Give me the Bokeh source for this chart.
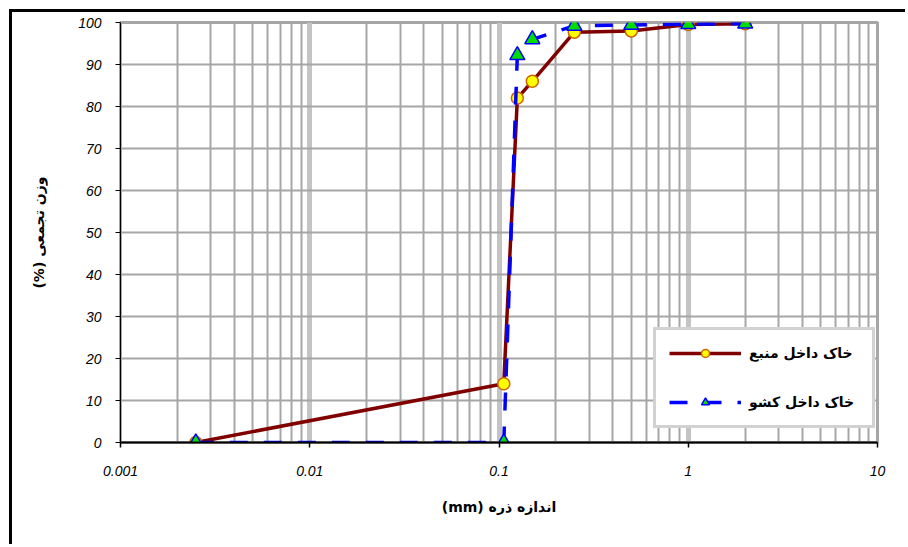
from bokeh.plotting import figure
from bokeh.models import (Range1d, FixedTicker, Legend, LegendItem)
from bokeh.embed import file_html
from bokeh.resources import INLINE

# ---- data ----
size_source = [0.0025, 0.106, 0.125, 0.15, 0.25, 0.5, 1.0, 2.0]
pass_source = [0.0, 14.0, 82.0, 86.0, 97.7, 98.0, 99.5, 99.7]

size_drawer = [0.0025, 0.106, 0.125, 0.15, 0.25, 0.5, 1.0, 2.0]
pass_drawer = [0.0, 0.0, 92.2, 96.0, 99.2, 99.4, 99.6, 99.7]

name_source = "خاک داخل منبع"
name_drawer = "خاک داخل کشو"
x_title = "اندازه ذره (mm)"
y_title = "وزن تجمعی (%)"

x_ticks = [0.001, 0.01, 0.1, 1, 10]
x_tick_labels = ["0.001", "0.01", "0.1", "1", "10"]
y_ticks = [0, 10, 20, 30, 40, 50, 60, 70, 80, 90, 100]

RLE, PDF = "\u202B", "\u202C"

OFF = 12
p = figure(width=908 - OFF, height=547 - OFF, x_axis_type="log",
           x_range=Range1d(0.001, 10), y_range=Range1d(0, 100),
           output_backend="svg", toolbar_location=None,
           min_border_left=120 - OFF, min_border_right=31,
           min_border_top=22 - OFF, min_border_bottom=105)
p.margin = (9, 0, 0, 9)
p.styles = {"border-left": "3px solid black", "border-top": "3px solid black"}
p.background_fill_color = "white"
p.border_fill_color = "white"
p.outline_line_color = "#a6a6a6"
p.outline_line_width = 3

minor = [d * m for d in x_ticks[:-1] for m in range(2, 10)]
xt = FixedTicker(ticks=x_ticks, minor_ticks=minor)
p.xaxis.ticker = xt
p.xaxis.major_label_overrides = {t: l for t, l in zip(x_ticks, x_tick_labels)}
p.yaxis.ticker = FixedTicker(ticks=y_ticks)

p.xgrid.grid_line_color = "#c4c4c4"
p.xgrid.grid_line_width = 5
p.xgrid.minor_grid_line_color = "#a6a6a6"
p.xgrid.minor_grid_line_width = 2
p.ygrid.grid_line_color = "#a6a6a6"
p.ygrid.grid_line_width = 2

for ax in (p.xaxis, p.yaxis):
    ax.major_label_text_font = "Liberation Sans"
    ax.major_label_text_font_style = "italic"
    ax.major_label_text_font_size = "14px"
    ax.major_label_text_color = "black"
    ax.major_tick_line_color = "black"
    ax.major_tick_in = 0
    ax.major_tick_out = 5
    ax.minor_tick_line_color = None
    ax.axis_label_text_font = "DejaVu Sans"
    ax.axis_label_text_font_style = "bold"
    ax.axis_label_text_font_size = "14px"
    ax.axis_label_text_color = "black"

p.xaxis.axis_line_color = "black"
p.xaxis.axis_line_width = 2
p.xaxis.major_tick_line_width = 1.5
p.xaxis.major_label_standoff = 18
p.xaxis.axis_label = RLE + x_title + PDF
p.xaxis.axis_label_standoff = 20

p.yaxis.axis_line_color = "black"
p.yaxis.axis_line_width = 1
p.yaxis.major_label_standoff = 14
p.yaxis.axis_label = RLE + y_title + PDF
p.yaxis.axis_label_standoff = 28

l1 = p.line(size_source, pass_source, line_color="#800000", line_width=3.5)
c1 = p.scatter(size_source, pass_source, marker="circle", size=12,
               fill_color="#ffff00", line_color="#cc6600", line_width=1.5)
l2 = p.line(size_drawer, pass_drawer, line_color="#0000ff", line_width=3.5,
            line_dash="18 16")
c2 = p.scatter(size_drawer, pass_drawer, marker="triangle", size=15,
               fill_color="#00dd00", line_color="#0000ff", line_width=1.5)

legend = Legend(items=[LegendItem(label=name_source, renderers=[l1, c1]),
                       LegendItem(label=name_drawer, renderers=[l2, c2])],
                location=(533, 14))
legend.margin = 0
legend.padding = 13
legend.spacing = 29
legend.glyph_width = 72
legend.glyph_height = 20
legend.label_height = 20
legend.label_standoff = 8
legend.label_width = 110
legend.label_text_font = "DejaVu Sans"
legend.label_text_font_style = "bold"
legend.label_text_font_size = "14px"
legend.label_text_color = "black"
legend.border_line_color = "#a6a6a6"
legend.border_line_width = 3
legend.background_fill_color = "white"
legend.background_fill_alpha = 1
p.add_layout(legend)

open("out.html", "w").write(file_html(p, INLINE))
